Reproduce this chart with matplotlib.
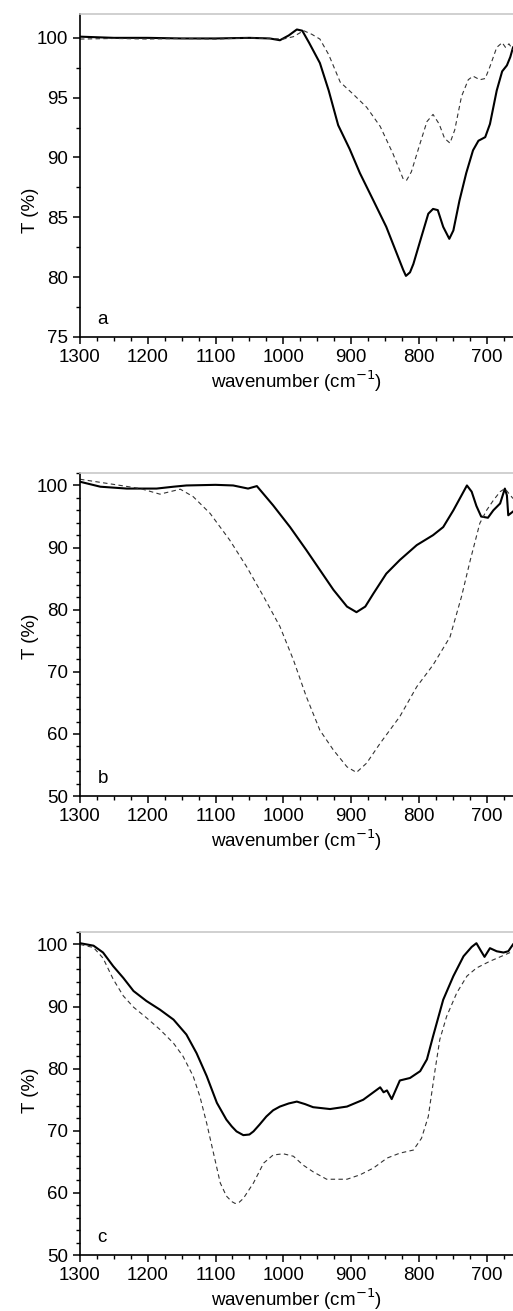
import matplotlib
matplotlib.use("Agg")
import matplotlib.pyplot as plt
from matplotlib.ticker import MultipleLocator

plt.rcParams['font.family'] = ['Liberation Sans', 'DejaVu Sans']

# panel a
wn_a_solid = [1300, 1250, 1200, 1150, 1100, 1050, 1020, 1005, 992, 980, 972, 962, 946, 933, 919, 902,
              887, 867, 848, 823, 819, 813, 808, 796, 786, 779, 772, 764, 755, 749, 740, 730, 720,
              712, 702, 695, 685, 677, 670, 665, 661]
t_a_solid = [100.1, 100.0, 100.0, 99.95, 99.95, 100.0, 99.95, 99.8, 100.2, 100.7, 100.6, 99.6, 97.9,
             95.6, 92.7, 90.7, 88.7, 86.4, 84.2, 80.6, 80.1, 80.4, 81.1, 83.4, 85.3, 85.7, 85.6,
             84.2, 83.2, 83.9, 86.4, 88.7, 90.6, 91.4, 91.7, 92.8, 95.6, 97.2, 97.7, 98.4, 99.2]
wn_a_dash = [1300, 1250, 1200, 1150, 1100, 1050, 1000, 985, 970, 958, 946, 933, 916, 897, 877, 857,
             838, 823, 818, 811, 798, 788, 779, 770, 762, 754, 747, 737, 727, 720, 710, 702, 695,
             685, 677, 672, 667, 661]
t_a_dash = [99.9, 99.95, 99.9, 99.95, 99.9, 100.0, 99.9, 100.1, 100.6, 100.3, 99.9, 98.6, 96.3, 95.3,
            94.2, 92.6, 90.3, 88.2, 88.1, 88.8, 91.2, 93.0, 93.6, 92.8, 91.6, 91.2, 92.3, 95.1, 96.5,
            96.8, 96.5, 96.6, 97.6, 99.2, 99.6, 99.2, 99.5, 99.0]

# panel b
wn_b_solid = [1300, 1270, 1231, 1187, 1162, 1143, 1100, 1074, 1052, 1039, 1015, 990, 966, 946, 926,
              906, 892, 879, 867, 848, 828, 803, 779, 764, 749, 737, 729, 722, 715, 708, 698, 690,
              680, 673, 670, 668, 661]
t_b_solid = [100.6, 99.8, 99.5, 99.5, 99.8, 100.0, 100.1, 100.0, 99.5, 99.9, 96.8, 93.3, 89.6, 86.4,
             83.2, 80.5, 79.6, 80.5, 82.6, 85.8, 88.0, 90.4, 92.0, 93.3, 96.0, 98.4, 100.0, 99.0,
             96.7, 95.0, 94.8, 96.0, 97.1, 99.5, 98.4, 95.2, 95.8]
wn_b_dash = [1300, 1246, 1211, 1182, 1152, 1133, 1108, 1079, 1054, 1029, 1005, 985, 966, 946, 926,
             906, 892, 877, 857, 828, 803, 779, 754, 737, 724, 710, 700, 690, 680, 673, 661]
t_b_dash = [101.0, 100.1, 99.5, 98.6, 99.4, 98.2, 95.5, 91.2, 86.9, 82.1, 77.3, 71.9, 66.0, 60.6,
            57.4, 54.7, 53.8, 55.3, 58.5, 62.8, 67.6, 71.1, 75.6, 82.1, 88.0, 93.9, 96.0, 97.6,
            99.0, 99.5, 97.9]

# panel c
wn_c_solid = [1300, 1280, 1266, 1251, 1236, 1221, 1202, 1182, 1162, 1143, 1128, 1113, 1098, 1084,
              1076, 1069, 1059, 1050, 1044, 1035, 1025, 1015, 1005, 992, 980, 968, 956, 931, 906,
              882, 862, 857, 852, 847, 840, 828, 813, 798, 788, 779, 764, 749, 734, 722, 715, 708,
              703, 695, 685, 675, 668, 661]
t_c_solid = [100.2, 99.8, 98.7, 96.5, 94.6, 92.5, 90.9, 89.5, 87.9, 85.5, 82.5, 78.8, 74.5, 71.8,
             70.7, 69.9, 69.3, 69.4, 69.9, 71.0, 72.3, 73.3, 73.9, 74.4, 74.7, 74.3, 73.8, 73.5,
             73.9, 75.0, 76.6, 77.0, 76.2, 76.5, 75.1, 78.1, 78.5, 79.6, 81.5, 85.2, 91.1, 94.9,
             98.1, 99.6, 100.2, 98.9, 98.0, 99.4, 98.9, 98.7, 98.9, 100.0]
wn_c_dash = [1300, 1280, 1266, 1251, 1236, 1221, 1202, 1182, 1162, 1148, 1133, 1123, 1113, 1103,
             1093, 1084, 1076, 1071, 1065, 1059, 1044, 1029, 1015, 1000, 985, 971, 956, 936, 906,
             887, 867, 847, 828, 808, 796, 786, 776, 769, 759, 744, 729, 715, 695, 680, 661]
t_c_dash = [100.0, 99.5, 97.8, 94.4, 91.7, 89.9, 88.2, 86.3, 84.1, 82.0, 78.8, 75.5, 71.2, 66.4,
            61.6, 59.5, 58.6, 58.3, 58.5, 59.1, 61.6, 64.8, 66.1, 66.3, 65.9, 64.5, 63.4, 62.2,
            62.2, 62.9, 64.0, 65.6, 66.4, 66.9, 68.8, 72.3, 79.8, 84.7, 88.4, 92.2, 94.9, 96.2,
            97.3, 98.0, 98.9]

panels = [
    ("a", wn_a_solid, t_a_solid, wn_a_dash, t_a_dash, (75, 102), 5, 2.5, 0.743, 0.393),
    ("b", wn_b_solid, t_b_solid, wn_b_dash, t_b_dash, (50, 102), 10, 2, 0.3928, 0.493),
    ("c", wn_c_solid, t_c_solid, wn_c_dash, t_c_dash, (50, 102), 10, 2, 0.0427, 0.511),
]

fig = plt.figure(figsize=(5.13, 13.11), dpi=100)
fs = 13.5

for letter, ws, ts, wd, td, ylim, major, minor, bottom, ylab_y in panels:
    ax = fig.add_axes([80 / 513, bottom, 433 / 513, 323 / 1311])
    ax.plot(ws, ts, color='black', lw=1.5)
    ax.plot(wd, td, color='#333333', lw=0.8, dashes=(4, 3))
    ax.set_xlim(1300, 661)
    ax.set_ylim(*ylim)
    ax.xaxis.set_major_locator(MultipleLocator(100))
    ax.xaxis.set_minor_locator(MultipleLocator(25))
    ax.yaxis.set_major_locator(MultipleLocator(major))
    ax.yaxis.set_minor_locator(MultipleLocator(minor))
    ax.spines['right'].set_visible(False)
    ax.spines['top'].set_color('#c8c8c8')
    ax.spines['top'].set_linewidth(1.2)
    ax.spines['left'].set_linewidth(1.2)
    ax.spines['bottom'].set_linewidth(1.2)
    ax.tick_params(which='major', length=5, width=1.1, labelsize=fs, direction='out',
                   top=False, right=False)
    ax.tick_params(which='minor', length=3, width=1.0, direction='out', top=False, right=False)
    ax.set_xlabel('wavenumber (cm$^{-1}$)', fontsize=fs, labelpad=2)
    ax.set_ylabel('T (%)', fontsize=fs)
    ax.yaxis.set_label_coords(-0.095, ylab_y)
    ax.text(0.04, 0.055, letter, transform=ax.transAxes, fontsize=fs, va='center', ha='left')

fig.savefig('out.png', dpi=100)
